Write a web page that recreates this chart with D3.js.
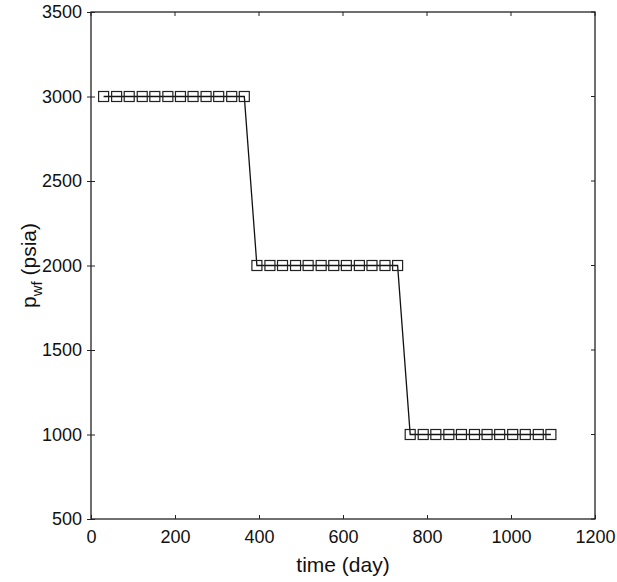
<!DOCTYPE html>
<html><head><meta charset="utf-8">
<script src="https://cdn.jsdelivr.net/npm/d3@7"></script>
<style>body{margin:0;background:#fff;} svg{display:block;font-family:"Liberation Sans",Arial,sans-serif;}</style>
</head><body><svg id="c" width="617" height="582"></svg>
<script>
const timeDays = [30, 61, 91, 122, 152, 183, 213, 243, 274, 304, 335, 365,
  395, 426, 456, 487, 517, 548, 578, 608, 639, 669, 700, 730,
  760, 791, 821, 852, 882, 913, 943, 973, 1004, 1034, 1065, 1095];
const pwf = [3000, 3000, 3000, 3000, 3000, 3000, 3000, 3000, 3000, 3000, 3000, 3000,
  2000, 2000, 2000, 2000, 2000, 2000, 2000, 2000, 2000, 2000, 2000, 2000,
  1000, 1000, 1000, 1000, 1000, 1000, 1000, 1000, 1000, 1000, 1000, 1000];
const xTicks = [0, 200, 400, 600, 800, 1000, 1200];
const yTicks = [500, 1000, 1500, 2000, 2500, 3000, 3500];

const svg = d3.select("#c");
const L = 91, R = 595, T = 12, B = 519;
const x = d3.scaleLinear().domain([0, 1200]).range([L, R]);
const y = d3.scaleLinear().domain([500, 3500]).range([B, T]);
const data = timeDays.map((t, i) => ({t, p: pwf[i]}));

// frame
svg.append("rect").attr("x", L).attr("y", T).attr("width", R - L).attr("height", B - T)
  .attr("fill", "none").attr("stroke", "#222").attr("stroke-width", 1.3);

// bottom axis
const xa = svg.append("g").attr("transform", `translate(0,${B})`)
  .call(d3.axisBottom(x).tickValues(xTicks).tickSize(-4).tickPadding(9).tickFormat(d3.format("d")));
xa.select(".domain").remove();
xa.selectAll("text").attr("font-size", 18).attr("fill", "#111").attr("dy", "0.85em");
xa.selectAll("line").attr("stroke", "#222");
// top ticks
svg.append("g").selectAll("line").data(xTicks).join("line")
  .attr("x1", d => x(d)).attr("x2", d => x(d)).attr("y1", T).attr("y2", T + 4).attr("stroke", "#222");

// left axis
const ya = svg.append("g").attr("transform", `translate(${L},0)`)
  .call(d3.axisLeft(y).tickValues(yTicks).tickSize(4).tickPadding(5).tickFormat(d3.format("d")));
ya.select(".domain").remove();
ya.selectAll("text").attr("font-size", 18).attr("fill", "#111");
ya.selectAll(".tick line").attr("x2", 0).attr("x1", -4).attr("stroke", "#222")
  .clone().attr("x1", 0).attr("x2", 4);
// right ticks
svg.append("g").selectAll("line").data(yTicks).join("line")
  .attr("x1", R - 4).attr("x2", R).attr("y1", d => y(d)).attr("y2", d => y(d)).attr("stroke", "#222");

// line
svg.append("path").datum(data)
  .attr("d", d3.line().x(d => x(d.t)).y(d => y(d.p)))
  .attr("fill", "none").attr("stroke", "#111").attr("stroke-width", 1.3);

// markers
const s = 10;
svg.append("g").selectAll("rect").data(data).join("rect")
  .attr("x", d => x(d.t) - s / 2).attr("y", d => y(d.p) - s / 2)
  .attr("width", s).attr("height", s)
  .attr("fill", "none").attr("stroke", "#222").attr("stroke-width", 1.2);

// titles
svg.append("text").attr("x", (L + R) / 2).attr("y", 572).attr("text-anchor", "middle")
  .attr("font-size", 21).attr("fill", "#111").text("time (day)");
const yt = svg.append("text").attr("transform", `translate(36,${(T + B) / 2}) rotate(-90)`)
  .attr("text-anchor", "middle").attr("font-size", 21).attr("fill", "#111");
yt.append("tspan").text("p");
yt.append("tspan").attr("font-size", 15).attr("dy", 6).text("wf");
yt.append("tspan").attr("dy", -6).text(" (psia)");
</script></body></html>
